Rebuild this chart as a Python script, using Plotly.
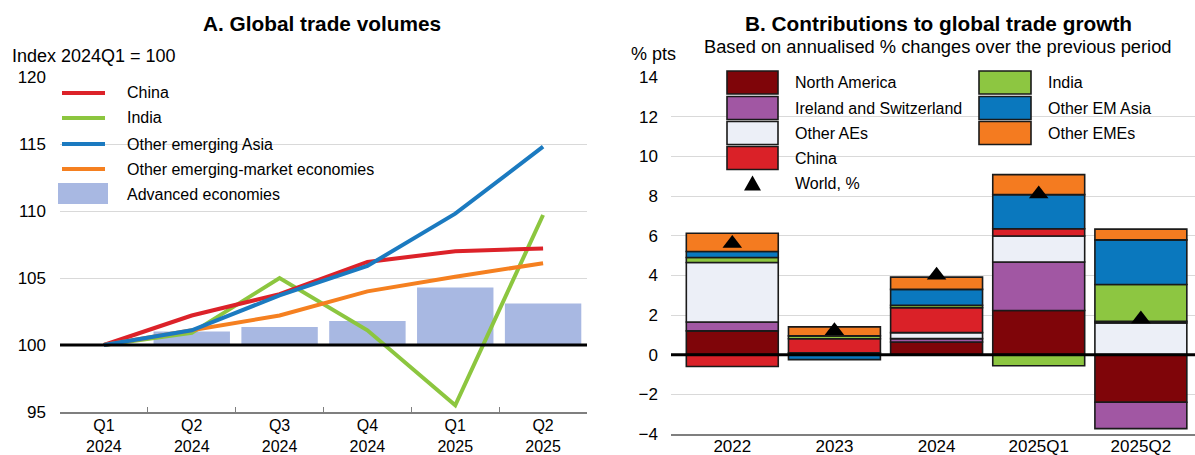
import plotly.graph_objects as go

W, H = 1195, 455
FONT = "Liberation Sans"

# ---------------- Panel A data ----------------
quarters = ["Q1<br>2024", "Q2<br>2024", "Q3<br>2024", "Q4<br>2024", "Q1<br>2025", "Q2<br>2025"]
china_idx = [100, 102.2, 103.8, 106.2, 107.0, 107.2]
india_idx = [100, 100.9, 105.0, 101.1, 95.5, 109.7]
other_asia_idx = [100, 101.1, 103.7, 105.9, 109.8, 114.8]
other_eme_idx = [100, 101.1, 102.2, 104.0, 105.1, 106.1]
advanced_idx = [100, 101.0, 101.35, 101.8, 104.3, 103.1]

# ---------------- Panel B data ----------------
periods = ["2022", "2023", "2024", "2025Q1", "2025Q2"]
north_america = [1.2, 0.1, 0.64, 2.23, -2.4]
ireland_switz = [0.45, 0.0, 0.17, 2.44, -1.33]
other_aes = [3.0, 0.0, 0.3, 1.31, 1.6]
china_c = [-0.6, 0.7, 1.26, 0.37, 0.08]
india_c = [0.25, 0.15, 0.12, -0.56, 1.86]
other_em_asia = [0.3, -0.25, 0.8, 1.72, 2.25]
other_emes = [0.92, 0.45, 0.62, 1.01, 0.54]
world = [5.6, 1.2, 4.0, 8.1, 1.8]

# colours
C_LINE = {"China": "#dc2229", "India": "#8cc63f", "Other emerging Asia": "#1b7ac0",
          "Other emerging-market economies": "#f58020"}
C_AE = "#a8b8e2"
C_BAR = {"North America": "#7f0509", "Ireland and Switzerland": "#a157a3",
         "Other AEs": "#eceff7", "China": "#da2128", "India": "#8dc641",
         "Other EM Asia": "#0a78be", "Other EMEs": "#f47b20"}


def px(x):
    return x / W


def py(y):
    return 1 - y / H


fig = go.Figure()

# Panel A: bars (base 100)
fig.add_trace(go.Bar(x=quarters, y=[v - 100 for v in advanced_idx], base=100,
                     marker=dict(color=C_AE, line=dict(width=0)), width=0.87,
                     xaxis="x", yaxis="y", showlegend=False, name="Advanced economies"))
for name, vals in [("India", india_idx), ("China", china_idx),
                   ("Other emerging-market economies", other_eme_idx),
                   ("Other emerging Asia", other_asia_idx)]:
    fig.add_trace(go.Scatter(x=quarters, y=vals, mode="lines", name=name,
                             line=dict(color=C_LINE[name], width=4),
                             xaxis="x", yaxis="y", showlegend=False))

# Panel B: stacked bars
for name, vals in [("North America", north_america), ("Ireland and Switzerland", ireland_switz),
                   ("Other AEs", other_aes), ("China", china_c), ("India", india_c),
                   ("Other EM Asia", other_em_asia), ("Other EMEs", other_emes)]:
    fig.add_trace(go.Bar(x=periods, y=vals, name=name, width=0.9,
                         marker=dict(color=C_BAR[name], line=dict(color="#1a1a1a", width=1.6)),
                         xaxis="x2", yaxis="y2", showlegend=False))
fig.add_trace(go.Scatter(x=periods, y=world, mode="markers", name="World, %",
                         marker=dict(symbol="triangle-up", size=17, color="black"),
                         xaxis="x2", yaxis="y2", showlegend=False))

tickfont = dict(family=FONT, size=17, color="black")
xtickfont = dict(family=FONT, size=16, color="black")

fig.update_layout(
    width=W, height=H,
    margin=dict(l=0, r=0, t=0, b=0, autoexpand=False),
    paper_bgcolor="white", plot_bgcolor="white",
    barmode="relative", bargap=0.1,
    font=dict(family=FONT, color="black"),
    xaxis=dict(domain=[px(60), px(587)], type="category", tickson="boundaries",
               ticks="inside", ticklen=5, tickcolor="#7f7f7f", tickwidth=1.2, showline=True,
               linecolor="#7f7f7f", linewidth=1.5, showgrid=False, tickfont=xtickfont,
               anchor="y", range=[-0.5, 5.5], ticklabelstandoff=-2, automargin=False),
    yaxis=dict(domain=[py(412), py(77)], range=[95, 120], dtick=5, showgrid=True,
               gridcolor="#d9d9d9", gridwidth=1, zeroline=False, showline=False,
               ticks="", tickfont=tickfont, anchor="x", ticklabelstandoff=13,
               automargin=False),
    xaxis2=dict(domain=[px(671), 1.0], type="category", showline=True, linecolor="#7f7f7f",
                linewidth=2, ticks="", showgrid=False, tickfont=tickfont, anchor="y2",
                range=[-0.6, 4.53], ticklabelstandoff=-4, automargin=False),
    yaxis2=dict(domain=[py(434), py(77)], range=[-4, 14], dtick=2, showgrid=True,
                gridcolor="#d9d9d9", gridwidth=1, zeroline=False, showline=False,
                ticks="", tickfont=tickfont, anchor="x2", ticklabelstandoff=12,
                automargin=False),
)

shapes = []
annotations = []

# reference lines
shapes.append(dict(type="line", xref="x domain", yref="y", x0=0, x1=1, y0=100, y1=100,
                   line=dict(color="black", width=3), layer="above"))
shapes.append(dict(type="line", xref="x2 domain", yref="y2", x0=0, x1=1, y0=0, y1=0,
                   line=dict(color="black", width=3), layer="above"))

# titles
annotations.append(dict(text="<b>A. Global trade volumes</b>", x=px(322), y=py(23),
                        xref="paper", yref="paper", showarrow=False, xanchor="center",
                        yanchor="middle", font=dict(family=FONT, size=20.8)))
annotations.append(dict(text="<b>B. Contributions to global trade growth</b>", x=px(938),
                        y=py(23), xref="paper", yref="paper", showarrow=False,
                        xanchor="center", yanchor="middle", font=dict(family=FONT, size=20.8)))
annotations.append(dict(text="Based on annualised % changes over the previous period",
                        x=px(938), y=py(47), xref="paper", yref="paper", showarrow=False,
                        xanchor="center", yanchor="middle", font=dict(family=FONT, size=18.3)))
annotations.append(dict(text="Index 2024Q1 = 100", x=px(10), y=py(56), xref="paper",
                        yref="paper", showarrow=False, xanchor="left", yanchor="middle",
                        font=dict(family=FONT, size=18)))
annotations.append(dict(text="% pts", x=px(629), y=py(54), xref="paper", yref="paper",
                        showarrow=False, xanchor="left", yanchor="middle",
                        font=dict(family=FONT, size=18)))

legfont = dict(family=FONT, size=16, color="black")

# Panel A legend
legA = [("China", 93), ("India", 118), ("Other emerging Asia", 144),
        ("Other emerging-market economies", 169)]
for name, yc in legA:
    shapes.append(dict(type="line", xref="paper", yref="paper", x0=px(62), x1=px(105),
                       y0=py(yc), y1=py(yc), line=dict(color=C_LINE[name], width=4)))
    annotations.append(dict(text=name, x=px(125), y=py(yc), xref="paper", yref="paper",
                            showarrow=False, xanchor="left", yanchor="middle", font=legfont))
shapes.append(dict(type="rect", xref="paper", yref="paper", x0=px(58), x1=px(108),
                   y0=py(204), y1=py(183), fillcolor=C_AE, line=dict(width=0)))
annotations.append(dict(text="Advanced economies", x=px(125), y=py(194), xref="paper",
                        yref="paper", showarrow=False, xanchor="left", yanchor="middle",
                        font=legfont))

# Panel B legend
col1 = [("North America", 82.5), ("Ireland and Switzerland", 108), ("Other AEs", 133),
        ("China", 158)]
col2 = [("India", 82.5), ("Other EM Asia", 108), ("Other EMEs", 133)]
for items, sx0, sx1, tx in [(col1, 727, 778, 793), (col2, 979, 1031, 1046)]:
    for name, yc in items:
        shapes.append(dict(type="rect", xref="paper", yref="paper", x0=px(sx0), x1=px(sx1),
                           y0=py(yc + 11.5), y1=py(yc - 11.5), fillcolor=C_BAR[name],
                           line=dict(color="#1a1a1a", width=1.6), layer="above"))
        annotations.append(dict(text=name, x=px(tx), y=py(yc), xref="paper", yref="paper",
                                showarrow=False, xanchor="left", yanchor="middle",
                                font=legfont))
# World legend triangle
tx0, ty0 = 752.5, 183.5
path = (f"M {px(tx0 - 8.5)},{py(ty0 + 7)} L {px(tx0 + 8.5)},{py(ty0 + 7)} "
        f"L {px(tx0)},{py(ty0 - 8)} Z")
shapes.append(dict(type="path", xref="paper", yref="paper", path=path,
                   fillcolor="black", line=dict(width=0), layer="above"))
annotations.append(dict(text="World, %", x=px(793), y=py(183), xref="paper", yref="paper",
                        showarrow=False, xanchor="left", yanchor="middle", font=legfont))

fig.update_layout(shapes=shapes, annotations=annotations)

fig.write_html("out.html")
